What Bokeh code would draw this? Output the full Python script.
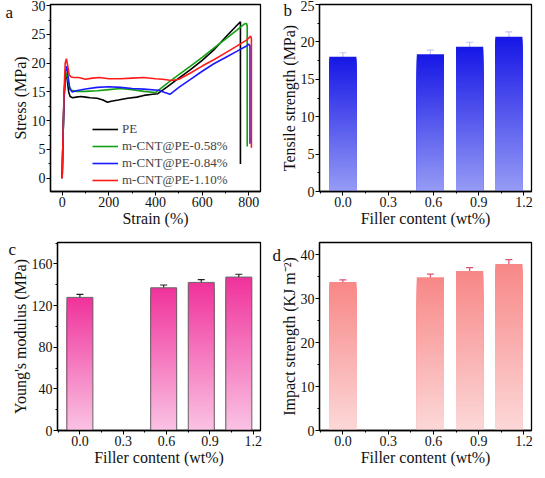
from bokeh.plotting import figure
from bokeh.models import (Range1d, SingleIntervalTicker, NumeralTickFormatter, Label,
                          Legend, LegendItem, Whisker, ColumnDataSource, TeeHead)
from bokeh.layouts import column, row
from bokeh.embed import file_html
from bokeh.resources import INLINE

FONT = "'Liberation Serif', 'Times New Roman', serif"

# ---------------- Panel a: stress-strain curves ----------------
pe_strain = [0, 3, 8, 13, 17, 22, 28, 34, 45, 60, 80, 100, 120, 150, 175, 194, 210, 240, 281, 320,
             350, 388, 410, 450, 500, 550, 600, 650, 700, 740, 764, 764]
pe_stress = [0, 6, 14, 17.5, 18.3, 17, 15, 14.2, 14.0, 14.1, 14.2, 14.1, 14.0, 13.9, 13.6, 13.2, 13.4,
             13.6, 13.9, 14.1, 14.4, 14.6, 14.7, 15.9, 17.4, 18.9, 20.5, 22.3, 24.5, 26.2, 27.2, 2.5]

g_strain = [0, 3, 8, 13, 19, 25, 32, 40, 60, 100, 150, 200, 250, 300, 350, 400, 450, 500, 550, 600,
            650, 700, 750, 780, 790, 793, 793]
g_stress = [0, 6, 13.5, 17.5, 18.3, 17, 15.8, 15.3, 15.1, 15.1, 15.2, 15.4, 15.6, 15.4, 15.1, 14.9,
            16.5, 18.0, 19.5, 21.0, 22.6, 24.2, 25.8, 26.8, 26.9, 26.5, 5.5]

b_strain = [0, 3, 8, 14, 20, 26, 33, 43, 60, 100, 150, 200, 250, 300, 350, 413, 440, 462, 500, 550,
            600, 650, 700, 750, 790, 800, 805, 805]
b_stress = [0, 6, 14, 18.5, 19.5, 17.5, 15.5, 15.0, 15.2, 15.5, 15.8, 15.9, 15.8, 15.6, 15.5, 15.3,
            14.9, 14.6, 15.8, 17.2, 18.6, 19.9, 21.0, 22.1, 23.0, 23.3, 23.0, 6.0]

r_strain = [0, 3, 8, 13, 18, 24, 30, 38, 50, 70, 100, 130, 160, 200, 250, 300, 350, 400, 430, 470,
            500, 550, 600, 650, 700, 750, 790, 808, 811, 811]
r_stress = [0, 6, 15, 20, 20.8, 19.5, 18, 17.6, 17.5, 17.5, 17.2, 17.4, 17.5, 17.3, 17.3, 17.4, 17.5,
            17.3, 17.2, 17.0, 17.2, 18.3, 19.5, 20.6, 21.8, 23.0, 24.0, 24.7, 24.3, 5.3]

series_labels = ["PE", "m-CNT@PE-0.58%", "m-CNT@PE-0.84%", "m-CNT@PE-1.10%"]
series_colors = ["#000000", "#12a012", "#1a1aff", "#ff1a1a"]

# ---------------- Panels b-d: bars ----------------
filler = [0.0, 0.58, 0.84, 1.10]
tensile = [18.0, 18.35, 19.35, 20.7]
tensile_err = [0.55, 0.55, 0.6, 0.65]
modulus = [127.8, 137.0, 142.2, 147.3]
modulus_err = [2.9, 2.7, 2.6, 2.7]
impact = [33.8, 34.9, 36.3, 37.9]
impact_err = [0.5, 0.7, 0.8, 1.0]


def style(p):
    p.outline_line_color = "black"
    p.outline_line_width = 1.3
    p.outline_line_alpha = 1
    p.xgrid.visible = False
    p.ygrid.visible = False
    p.background_fill_color = "white"
    p.border_fill_color = "white"
    for ax in p.axis:
        ax.axis_line_color = "black"
        ax.axis_line_width = 1.3
        ax.major_tick_out = 4
        ax.major_tick_in = 0
        ax.minor_tick_out = 2
        ax.minor_tick_in = 0
        ax.major_tick_line_color = "black"
        ax.minor_tick_line_color = "black"
        ax.major_label_text_font = FONT
        ax.major_label_text_font_size = "14px"
        ax.major_label_text_color = "#111111"
        ax.axis_label_text_font = FONT
        ax.axis_label_text_font_size = "16px"
        ax.axis_label_text_font_style = "normal"
        ax.axis_label_text_color = "#111111"
        ax.major_label_standoff = 1
        ax.axis_label_standoff = 0


def lerp(c0, c1, t):
    return "#%02x%02x%02x" % tuple(int(round(a + (b - a) * t)) for a, b in zip(c0, c1))


def gradient_bars(p, xs, vals, errs, bottom_c, top_c, err_color, outline=None, n=60, width=0.18):
    sx, st, sc = [], [], []
    for i in range(n, 0, -1):
        for x, v in zip(xs, vals):
            sx.append(x)
            st.append(v * i / n)
            sc.append(lerp(bottom_c, top_c, (i - 0.5) / n))
    src = ColumnDataSource(dict(x=sx, top=st, color=sc))
    p.vbar(x="x", bottom=0, top="top", width=width, fill_color="color",
           line_color=None, source=src)
    if outline:
        p.vbar(x=xs, top=vals, width=width, fill_alpha=0, line_color=outline, line_width=1)
    esrc = ColumnDataSource(dict(x=xs, upper=[v + e for v, e in zip(vals, errs)],
                                 lower=[v - e for v, e in zip(vals, errs)]))
    w = Whisker(source=esrc, base="x", upper="upper", lower="lower", line_color=err_color,
                line_width=1.2,
                upper_head=TeeHead(size=7, line_color=err_color, line_width=1.2),
                lower_head=TeeHead(size=7, line_color=err_color, line_width=1.2))
    p.add_layout(w)


def bar_fig(ylabel, ymax, yint, width, top, bottom, right):
    p = figure(width=width, height=235,
               x_range=Range1d(-0.155, 1.25), y_range=Range1d(0, ymax),
               output_backend="svg", toolbar_location=None,
               min_border_left=20, min_border_right=right,
               min_border_top=top, min_border_bottom=bottom)
    p.xaxis.ticker = SingleIntervalTicker(interval=0.3, num_minor_ticks=2)
    p.xaxis.formatter = NumeralTickFormatter(format="0.0")
    p.yaxis.ticker = SingleIntervalTicker(interval=yint, num_minor_ticks=2)
    p.xaxis.axis_label = "Filler content (wt%)"
    p.yaxis.axis_label = ylabel
    style(p)
    return p


def letter(p, txt, x, y):
    # panel letter placed in the left side panel (outside the frame)
    p.add_layout(Label(x=x, y=y, x_units="screen", y_units="screen", text=txt,
                       text_font=FONT, text_font_size="17px", text_color="#111111",
                       text_baseline="alphabetic"), "left")


# ---- Panel a
pa = figure(width=268, height=235, x_range=Range1d(-50, 850), y_range=Range1d(-2.3, 30.2),
            output_backend="svg", toolbar_location=None,
            min_border_left=20, min_border_right=8, min_border_top=4, min_border_bottom=44)
renderers = []
for xs, ys, c in zip([pe_strain, g_strain, b_strain, r_strain],
                     [pe_stress, g_stress, b_stress, r_stress], series_colors):
    renderers.append(pa.line(xs, ys, line_color=c, line_width=1.6))
pa.xaxis.ticker = SingleIntervalTicker(interval=200, num_minor_ticks=2)
pa.yaxis.ticker = SingleIntervalTicker(interval=5, num_minor_ticks=2)
pa.xaxis.axis_label = "Strain (%)"
pa.yaxis.axis_label = "Stress (MPa)"
style(pa)
leg = Legend(items=[LegendItem(label=l, renderers=[r]) for l, r in zip(series_labels, renderers)],
             location=(42, 3), border_line_alpha=0, background_fill_alpha=0,
             label_text_font=FONT, label_text_font_size="13px", glyph_width=26, glyph_height=16,
             label_height=16, spacing=1, padding=0, margin=0, label_standoff=4)
pa.add_layout(leg)
letter(pa, "a", 5, 179)

# ---- Panel b
pb = bar_fig("Tensile strength (MPa)", 25, 5, 269, 4, 44, 6)
gradient_bars(pb, filler, tensile, tensile_err, (150, 156, 245), (22, 22, 230), "#c4c4ee")
letter(pb, "b", 15, 181)

# ---- Panel c
pc = bar_fig("Young's modulus (MPa)", 180.5, 40, 268, 7, 40, 8)
gradient_bars(pc, filler, modulus, modulus_err, (250, 195, 228), (240, 50, 155), "#222222",
              outline="#666666")
letter(pc, "c", 8, 181)

# ---- Panel d
pd_ = bar_fig("Impact strength (KJ m\u207b\u00b2)", 42.8, 10, 269, 7, 40, 6)
gradient_bars(pd_, filler, impact, impact_err, (252, 216, 216), (248, 135, 135), "#e0506e")
letter(pd_, "d", 4, 175)

layout = column(row(pa, pb), row(pc, pd_))
open("out.html", "w").write(file_html(layout, INLINE))
